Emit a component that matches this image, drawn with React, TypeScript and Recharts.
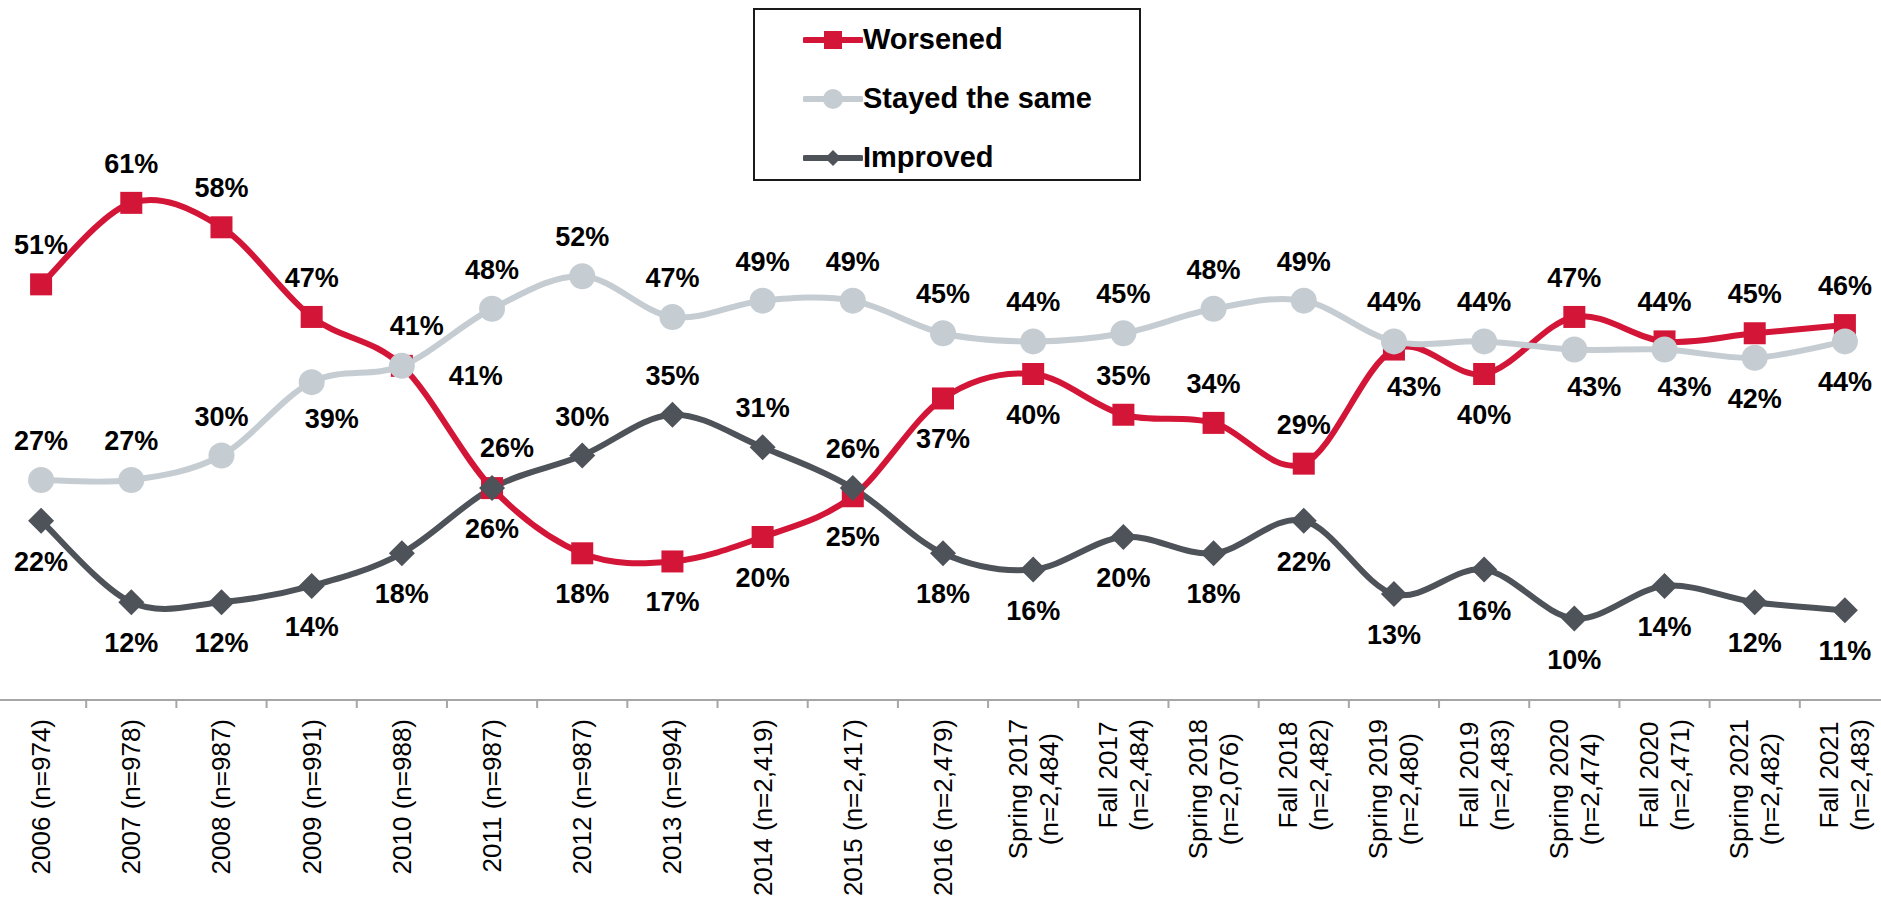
import * as React from "react";
import { LineChart, Line, XAxis, YAxis, Legend, LabelList } from "recharts";

const categories = [
  "2006 (n=974)",
  "2007 (n=978)",
  "2008 (n=987)",
  "2009 (n=991)",
  "2010 (n=988)",
  "2011 (n=987)",
  "2012 (n=987)",
  "2013 (n=994)",
  "2014 (n=2,419)",
  "2015 (n=2,417)",
  "2016 (n=2,479)",
  "Spring 2017\n(n=2,484)",
  "Fall 2017\n(n=2,484)",
  "Spring 2018\n(n=2,076)",
  "Fall 2018\n(n=2,482)",
  "Spring 2019\n(n=2,480)",
  "Fall 2019\n(n=2,483)",
  "Spring 2020\n(n=2,474)",
  "Fall 2020\n(n=2,471)",
  "Spring 2021\n(n=2,482)",
  "Fall 2021\n(n=2,483)",
];

const worsened = [51, 61, 58, 47, 41, 26, 18, 17, 20, 25, 37, 40, 35, 34, 29, 43, 40, 47, 44, 45, 46];
const stayedSame = [27, 27, 30, 39, 41, 48, 52, 47, 49, 49, 45, 44, 45, 48, 49, 44, 44, 43, 43, 42, 44];
const improved = [22, 12, 12, 14, 18, 26, 30, 35, 31, 26, 18, 16, 20, 18, 22, 13, 16, 10, 14, 12, 11];

// where each data label sits relative to its marker
const worsenedLabelPos = ["T", "T", "T", "T", "TR", "B", "B", "B", "B", "B", "B", "B", "T", "T", "T", "BR", "B", "T", "T", "T", "T"];
const stayedLabelPos = ["T", "T", "T", "BR", "R", "T", "T", "T", "T", "T", "T", "T", "T", "T", "T", "T", "T", "BR", "BR", "B", "B"];
const improvedLabelPos = ["B", "B", "B", "B", "B", "TR", "T", "T", "T", "T", "B", "B", "B", "B", "B", "B", "B", "B", "B", "B", "B"];

const RED = "#D31638";
const LIGHT = "#C5CDD3";
const DARK = "#4E5259";
const FONT = "'Liberation Sans', Arial, sans-serif";
const TICK_FONT_SIZE = 26;

const CHART_W = 1894;
const CHART_H = 901;
const BAND = CHART_W / categories.length;

const data = categories.map((name, i) => ({
  name,
  worsened: worsened[i],
  stayed: stayedSame[i],
  improved: improved[i],
}));

const offsets: Record<string, [number, number]> = {
  T: [0, -39],
  B: [0, 41],
  TR: [15, -40],
  BR: [20, 37],
  R: [74, 10],
};

// Excel-like smoothed line (Catmull-Rom through the points)
function excelSmooth(context: any) {
  let pts: [number, number][] = [];
  return {
    areaStart() {},
    areaEnd() {},
    lineStart() {
      pts = [];
    },
    lineEnd() {
      if (!pts.length) return;
      context.moveTo(pts[0][0], pts[0][1]);
      for (let i = 0; i < pts.length - 1; i++) {
        const p0 = pts[i - 1] || pts[i];
        const p1 = pts[i];
        const p2 = pts[i + 1];
        const p3 = pts[i + 2] || p2;
        context.bezierCurveTo(
          p1[0] + (p2[0] - p0[0]) / 6,
          p1[1] + (p2[1] - p0[1]) / 6,
          p2[0] - (p3[0] - p1[0]) / 6,
          p2[1] - (p3[1] - p1[1]) / 6,
          p2[0],
          p2[1]
        );
      }
    },
    point(x: number, y: number) {
      pts.push([x, y]);
    },
  };
}

let measureCtx: CanvasRenderingContext2D | null = null;
function textWidth(s: string) {
  if (!measureCtx) {
    measureCtx = document.createElement("canvas").getContext("2d");
  }
  if (!measureCtx) return s.length * 14;
  measureCtx.font = `${TICK_FONT_SIZE}px ${FONT}`;
  return measureCtx.measureText(s).width;
}

function CategoryTick(props: any) {
  const { x, y, payload, index } = props;
  const lines: string[] = String(payload.value).split("\n");
  const maxW = Math.max(...lines.map(textWidth));
  const cy = y + 19 + maxW / 2;
  return (
    <g>
      {index === 0 && <line x1={x - BAND / 2} x2={x - BAND / 2} y1={y} y2={y + 8} stroke="#A6A6A6" strokeWidth={2} />}
      <line x1={x + BAND / 2} x2={x + BAND / 2} y1={y} y2={y + 8} stroke="#A6A6A6" strokeWidth={2} />
      {lines.map((ln, i) => (
        <text
          key={i}
          transform={`translate(${x + (i - (lines.length - 1) / 2) * 31}, ${cy}) rotate(-90)`}
          textAnchor="middle"
          dominantBaseline="central"
          fontFamily={FONT}
          fontSize={TICK_FONT_SIZE}
          fill="#000"
        >
          {ln}
        </text>
      ))}
    </g>
  );
}

function makeLabel(positions: string[]) {
  return (props: any) => {
    const { x, y, value, index } = props;
    const [dx, dy] = offsets[positions[index]] || offsets.T;
    return (
      <text
        x={x + dx}
        y={y + dy}
        textAnchor="middle"
        dominantBaseline="central"
        fontFamily={FONT}
        fontSize={27}
        fontWeight="bold"
        fill="#000"
      >
        {`${value}%`}
      </text>
    );
  };
}

const squareDot = (p: any) => <rect key={`sq-${p.index}`} x={p.cx - 11} y={p.cy - 11} width={22} height={22} fill={RED} />;
const circleDot = (p: any) => <circle key={`ci-${p.index}`} cx={p.cx} cy={p.cy} r={13} fill={LIGHT} />;
const diamondDot = (p: any) => (
  <polygon
    key={`di-${p.index}`}
    points={`${p.cx},${p.cy - 13} ${p.cx + 13},${p.cy} ${p.cx},${p.cy + 13} ${p.cx - 13},${p.cy}`}
    fill={DARK}
  />
);

const legendItems = [
  { label: "Worsened", color: RED, shape: "square" },
  { label: "Stayed the same", color: LIGHT, shape: "circle" },
  { label: "Improved", color: DARK, shape: "diamond" },
];

function LegendBox() {
  return (
    <div
      style={{
        width: 388,
        height: 173,
        border: "2px solid #1a1a1a",
        background: "#fff",
        boxSizing: "border-box",
        position: "relative",
        fontFamily: FONT,
      }}
    >
      {legendItems.map((it, i) => (
        <div
          key={it.label}
          style={{
            position: "absolute",
            left: 48,
            top: 29.5 + i * 59 - 20,
            height: 40,
            display: "flex",
            alignItems: "center",
          }}
        >
          <svg width={60} height={40}>
            <line x1={2} x2={58} y1={20} y2={20} stroke={it.color} strokeWidth={6} strokeLinecap="round" />
            {it.shape === "square" && <rect x={21} y={11} width={18} height={18} fill={it.color} />}
            {it.shape === "circle" && <circle cx={30} cy={20} r={10} fill={it.color} />}
            {it.shape === "diamond" && <polygon points="30,12 38,20 30,28 22,20" fill={it.color} />}
          </svg>
          <span style={{ fontSize: 29, fontWeight: "bold", color: "#000", marginLeft: 0 }}>{it.label}</span>
        </div>
      ))}
    </div>
  );
}

export default function App() {
  return (
    <div style={{ position: "fixed", left: 0, top: 0, width: 1881, height: 901, overflow: "hidden", background: "#fff" }}>
      <div style={{ position: "absolute", left: -4, top: 0 }}>
        <LineChart width={CHART_W} height={CHART_H} data={data} margin={{ top: 129.5, right: 0, bottom: 0, left: 0 }}>
          <XAxis
            dataKey="name"
            interval={0}
            height={201}
            padding={{ left: BAND / 2, right: BAND / 2 }}
            axisLine={{ stroke: "#A6A6A6", strokeWidth: 2 }}
            tickLine={false}
            tickSize={0}
            tickMargin={0}
            tick={<CategoryTick />}
          />
          <YAxis hide domain={[0, 70]} />
          <Legend
            layout="vertical"
            align="center"
            verticalAlign="middle"
            wrapperStyle={{ top: 8, left: 757, width: 388, height: 173 }}
            content={() => <LegendBox />}
          />
          <Line
            dataKey="worsened"
            name="Worsened"
            type={excelSmooth as any}
            stroke={RED}
            strokeWidth={6}
            dot={squareDot}
            activeDot={false}
            isAnimationActive={false}
          >
            <LabelList dataKey="worsened" content={makeLabel(worsenedLabelPos)} />
          </Line>
          <Line
            dataKey="stayed"
            name="Stayed the same"
            type={excelSmooth as any}
            stroke={LIGHT}
            strokeWidth={6}
            dot={circleDot}
            activeDot={false}
            isAnimationActive={false}
          >
            <LabelList dataKey="stayed" content={makeLabel(stayedLabelPos)} />
          </Line>
          <Line
            dataKey="improved"
            name="Improved"
            type={excelSmooth as any}
            stroke={DARK}
            strokeWidth={6}
            dot={diamondDot}
            activeDot={false}
            isAnimationActive={false}
          >
            <LabelList dataKey="improved" content={makeLabel(improvedLabelPos)} />
          </Line>
        </LineChart>
      </div>
    </div>
  );
}
